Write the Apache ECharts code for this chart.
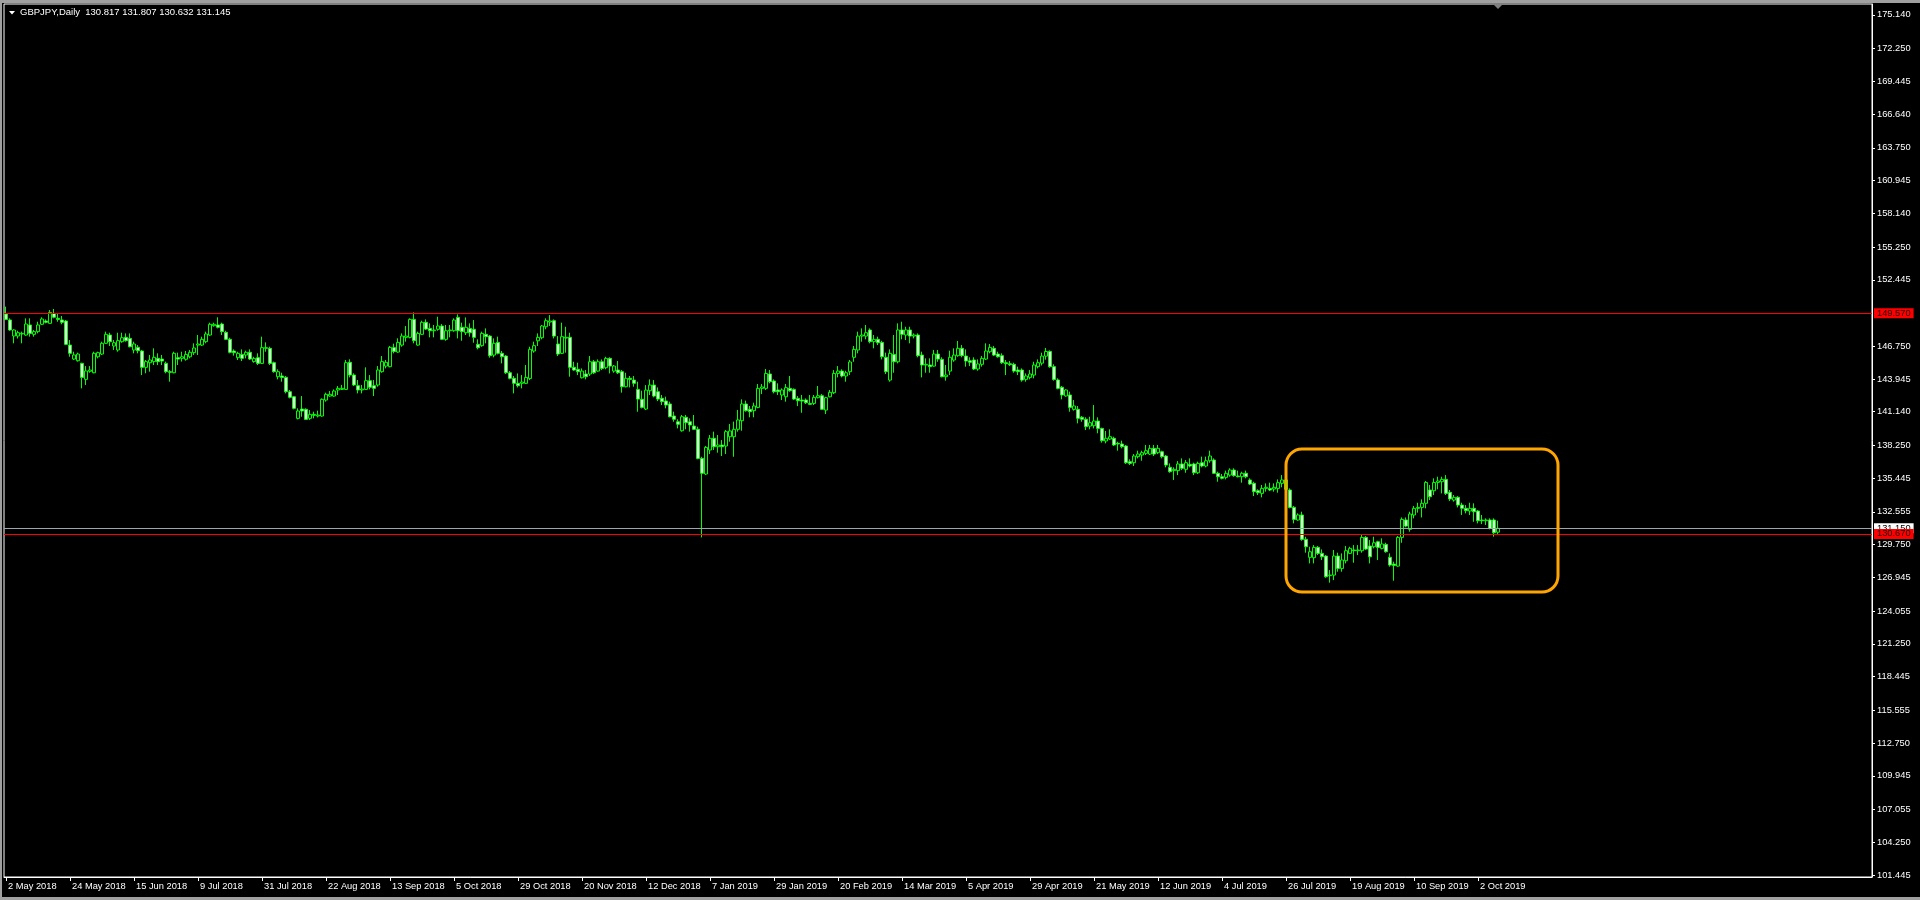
<!DOCTYPE html>
<html><head><meta charset="utf-8">
<script src="https://cdn.jsdelivr.net/npm/echarts@6/dist/echarts.min.js"></script>
<style>html,body{margin:0;padding:0;background:#000;overflow:hidden}#c{width:1920px;height:900px}</style>
</head><body><div id="c"></div>
<script>
// ---------- data ----------
const symbolTitle = 'GBPJPY,Daily';
const lastQuote = ['130.817', '131.807', '130.632', '131.145'];
const firstDate = [2018, 4, 2];              // 2 May 2018
const closedDays = ['2018-12-25', '2019-01-01'];
const totalSlots = 467;                       // visible bar slots incl. empty future space
const monthNames = ['Jan','Feb','Mar','Apr','May','Jun','Jul','Aug','Sep','Oct','Nov','Dec'];

const opens = [
149.51,149.00,147.63,147.63,147.80,147.71,148.57,147.77,148.00,148.63,
148.91,148.71,149.57,149.14,149.00,148.91,146.85,145.65,145.51,145.28,
143.91,144.60,144.48,145.85,146.08,147.00,147.71,146.77,146.43,147.14,
147.51,147.42,146.43,146.65,146.34,144.94,145.34,145.43,145.71,145.65,
145.28,144.57,144.48,145.77,145.71,145.63,145.85,146.20,146.85,146.85,
147.14,147.71,148.51,148.57,148.65,147.94,147.34,146.34,145.77,146.05,
146.00,146.23,145.43,145.77,145.28,146.57,146.57,145.34,144.14,144.20,
144.08,142.85,142.42,140.57,141.37,141.34,140.57,140.91,140.77,140.77,
142.14,142.48,142.48,143.00,143.05,143.05,145.37,144.28,143.37,143.00,
143.05,143.80,143.37,143.43,144.57,145.05,145.00,146.63,146.25,146.85,
147.51,147.51,149.05,146.85,147.77,148.80,148.28,148.08,148.20,148.48,
147.34,148.08,148.08,149.22,148.37,147.91,148.28,148.20,146.91,146.80,
147.77,147.62,145.99,147.08,146.14,145.91,144.48,144.00,143.57,143.57,
143.57,143.99,146.34,147.22,147.48,148.42,148.82,148.94,146.94,146.14,
147.45,147.51,144.94,144.77,144.05,144.37,144.37,145.42,144.62,145.42,
144.91,145.71,144.62,144.71,144.57,143.28,144.00,143.85,143.05,142.20,
141.37,142.94,143.42,142.85,142.29,142.06,141.80,140.77,140.28,139.51,
140.66,140.28,139.91,139.63,137.14,135.80,137.86,138.86,138.14,138.28,
138.20,139.00,139.00,139.63,140.37,141.80,141.34,141.23,141.51,143.14,
143.14,144.37,143.77,143.00,142.57,142.42,143.14,143.05,142.28,142.14,
142.14,141.85,141.85,142.34,142.51,141.28,142.42,142.77,144.42,144.62,
144.20,144.57,145.80,146.43,147.62,147.62,148.14,147.14,147.34,147.08,
145.80,143.85,146.05,145.42,148.14,147.71,148.14,147.62,147.71,145.99,
145.14,145.14,145.05,146.08,145.62,144.14,144.62,145.57,145.94,146.57,
145.91,145.51,145.57,144.80,145.20,145.65,146.28,146.57,146.08,145.94,
145.34,145.25,145.20,144.71,144.71,143.91,144.08,144.28,145.00,145.30,
145.90,146.30,145.00,143.86,143.23,142.49,142.57,141.34,141.34,140.66,
140.49,139.91,139.94,140.34,139.71,138.63,138.80,138.86,138.43,138.37,
138.20,136.86,136.77,137.29,137.43,137.57,137.51,138.00,137.63,137.71,
137.34,136.37,136.09,136.09,136.66,136.20,136.63,136.66,135.91,136.77,
136.49,136.94,137.00,135.86,135.57,135.51,135.71,136.14,135.63,135.57,
135.86,135.29,135.00,134.37,134.14,134.57,134.57,134.51,134.57,135.00,
135.29,134.43,132.94,131.86,132.29,130.20,128.66,128.63,129.51,129.00,
128.77,127.09,127.14,128.77,127.71,128.37,129.00,129.29,129.23,129.23,
130.37,129.63,129.57,130.00,129.43,129.77,128.66,128.08,127.91,130.37,
131.86,131.06,132.29,132.86,132.94,133.29,134.43,134.37,135.08,135.14,
135.34,134.23,133.57,133.80,133.14,132.86,132.63,132.86,132.63,131.86,
131.80,131.86,131.86,130.817];

const highs = [
150.14,149.14,148.20,148.08,148.00,149.14,149.14,148.14,148.85,149.23,
149.05,149.85,149.94,149.57,149.34,149.00,147.28,146.28,146.20,145.34,
145.05,145.05,146.28,146.28,147.14,148.00,147.91,147.28,147.91,147.91,
147.85,147.85,147.14,146.85,146.43,145.57,146.00,146.57,146.14,146.00,
145.43,144.71,146.28,146.20,146.28,146.34,146.43,147.00,147.71,147.57,
148.00,148.77,148.77,149.23,148.77,148.08,147.48,146.48,146.28,146.48,
146.37,146.48,145.85,146.14,147.57,147.08,146.71,145.43,144.77,144.48,
144.20,143.00,142.48,141.43,142.48,141.43,141.28,141.14,141.23,142.28,
142.77,142.91,143.05,143.34,143.43,145.57,145.63,144.43,143.85,143.43,
144.94,144.28,143.85,145.05,145.91,145.57,146.77,146.97,147.43,147.85,
148.48,149.14,149.65,148.00,148.94,149.05,148.71,148.57,149.28,148.65,
148.57,148.57,149.14,149.48,148.77,149.22,148.71,148.99,147.34,148.00,
148.28,147.71,147.42,147.57,146.34,145.99,144.62,144.20,144.42,144.28,
145.14,146.71,147.14,147.85,148.57,149.14,149.42,149.05,147.62,148.77,
148.42,147.91,145.42,145.34,144.85,144.71,145.91,145.57,145.62,145.62,
145.85,145.80,145.14,145.48,144.71,144.48,144.20,144.20,143.71,142.94,
143.42,143.91,143.85,143.22,142.57,142.43,142.00,141.14,140.49,140.86,
140.86,140.57,140.86,139.86,137.28,138.20,139.14,139.43,139.14,138.71,
139.57,140.09,140.29,141.29,142.20,142.09,141.63,141.91,143.51,143.51,
144.80,144.71,143.91,143.57,143.14,143.51,144.20,143.14,142.48,142.57,
142.28,142.57,142.57,143.34,142.65,142.42,143.00,144.71,145.05,144.77,
144.65,145.57,146.77,148.00,148.28,148.57,148.28,147.71,147.57,147.22,
146.20,146.48,147.71,148.71,148.85,148.42,148.42,147.85,147.85,146.28,
145.71,145.71,146.43,146.43,145.80,145.14,146.37,146.57,147.20,146.85,
146.48,145.80,145.80,145.62,145.91,147.00,146.94,146.77,146.28,146.14,
145.57,145.48,145.34,145.00,144.85,144.42,144.71,145.42,145.62,146.20,
146.60,146.40,145.20,144.00,143.34,143.06,142.86,142.14,141.63,140.77,
140.66,140.71,141.71,140.66,139.77,139.49,139.63,139.00,138.57,138.66,
138.29,137.06,137.51,137.80,137.80,138.29,138.29,138.29,138.29,137.80,
137.43,136.71,136.37,136.91,137.14,137.00,137.14,136.77,136.86,137.29,
137.29,137.80,137.14,136.00,135.80,136.09,136.29,136.29,136.09,136.00,
136.09,135.43,135.14,134.49,134.86,135.00,135.06,135.00,135.34,135.71,
135.40,134.57,133.06,132.43,132.57,130.43,129.57,129.71,129.63,129.34,
128.86,127.57,129.29,129.06,129.00,129.63,129.57,129.71,129.71,130.66,
130.49,130.14,130.43,130.08,130.29,129.91,129.00,128.29,130.49,132.08,
132.08,132.57,133.06,133.34,133.63,135.20,134.86,135.43,135.57,135.57,
135.71,134.43,134.00,133.91,133.34,133.14,133.34,133.29,132.71,132.29,
132.00,132.00,132.00,131.807];

const lows = [
149.00,148.08,147.00,147.41,147.00,147.65,147.57,147.57,147.85,148.57,
148.71,148.71,149.14,148.85,148.63,146.85,145.85,145.57,145.43,143.14,
143.43,144.48,144.43,145.71,146.00,146.94,146.77,146.43,146.28,147.05,
147.14,146.65,146.14,146.14,144.28,144.43,144.57,145.14,145.14,145.14,
144.43,143.71,144.43,145.14,145.43,145.51,145.71,146.00,146.00,146.77,
147.00,147.65,148.43,148.28,147.71,147.28,146.14,145.94,145.57,145.48,
145.71,145.57,145.34,145.14,145.23,146.28,145.14,144.48,143.91,143.71,
142.71,142.28,141.34,140.48,140.71,140.43,140.43,140.57,140.65,140.71,
142.00,142.42,142.42,142.57,143.00,143.00,144.08,143.34,142.71,142.71,
143.00,143.05,142.48,143.28,144.48,144.85,144.94,146.14,146.20,146.71,
147.14,147.43,147.00,146.80,147.71,148.14,147.51,147.51,148.08,147.28,
147.22,147.51,147.99,147.42,147.22,147.71,147.57,147.05,146.48,146.71,
147.00,145.77,145.80,146.05,145.28,144.37,143.91,142.71,143.22,143.14,
143.51,143.85,146.20,146.77,147.34,148.20,148.48,147.42,145.91,146.08,
146.20,144.14,144.65,144.28,143.99,143.91,144.20,144.37,144.57,144.71,
144.77,144.42,144.48,144.37,142.77,143.22,143.22,143.28,141.14,141.42,
141.28,142.57,142.37,142.05,141.71,141.43,140.66,140.28,139.71,139.43,
139.63,139.43,139.57,137.06,130.37,135.71,137.51,137.86,137.63,137.34,
137.51,138.57,137.28,139.43,139.51,141.14,140.66,140.66,141.43,142.65,
143.00,143.57,142.71,142.57,142.14,142.00,142.85,142.14,141.62,141.05,
141.80,141.71,141.71,142.28,141.28,140.94,142.37,142.65,144.08,144.08,
143.71,144.28,145.42,146.14,147.14,147.34,147.00,146.57,146.85,145.62,
144.37,143.71,144.48,145.28,147.34,147.28,147.00,147.42,145.80,144.08,
144.48,144.48,145.00,145.42,144.08,143.80,144.28,145.42,145.85,145.80,
145.00,145.05,144.71,144.65,145.00,145.57,146.14,145.91,145.77,145.23,
144.28,145.05,144.48,144.28,143.71,143.71,143.91,144.00,144.85,145.10,
145.60,144.90,143.80,143.06,142.20,142.43,141.14,141.23,140.14,140.28,
139.57,139.63,139.71,139.29,138.49,138.43,138.71,138.20,137.80,138.00,
136.66,136.57,136.49,137.14,136.94,137.43,137.43,137.34,137.51,137.14,
136.37,135.91,135.29,135.71,136.14,135.91,136.37,135.71,135.80,136.37,
136.37,136.77,135.80,135.14,135.34,135.34,135.57,135.57,135.51,135.06,
135.43,134.86,133.91,134.00,133.80,134.29,134.34,134.29,134.20,134.66,
134.40,132.86,131.57,131.80,130.08,129.06,128.14,128.14,128.86,128.43,
126.91,126.49,126.71,127.43,127.43,128.14,128.94,128.20,128.86,129.06,
129.29,128.14,129.43,128.43,129.34,129.06,127.86,126.66,127.86,129.91,
131.23,130.86,132.00,132.49,132.08,132.86,133.57,134.00,134.49,134.14,
134.00,133.49,133.43,132.94,132.29,132.43,132.29,131.71,131.57,131.51,
131.43,131.06,130.43,130.632];

const closes = [
149.05,148.14,148.14,147.91,147.85,148.65,147.85,148.00,148.57,149.08,
148.80,149.65,149.23,149.05,148.80,146.91,146.14,146.00,146.08,144.08,
144.63,144.71,146.14,146.20,147.00,147.77,147.14,147.05,147.23,147.48,
147.23,146.71,146.94,146.37,144.94,145.43,145.57,145.80,145.43,145.48,
144.57,144.51,146.14,145.65,145.85,146.05,146.23,146.60,146.94,147.34,
147.80,148.63,148.63,148.37,148.00,147.34,146.23,146.20,146.14,145.71,
146.23,145.65,145.71,145.28,146.63,146.63,145.28,144.57,144.57,144.08,
142.85,142.37,141.43,141.20,141.20,140.48,140.91,140.83,140.85,142.20,
142.63,142.63,142.91,143.14,143.14,145.34,144.28,143.43,143.00,143.08,
143.80,143.23,143.14,144.71,145.43,145.37,146.65,146.30,147.08,147.62,
147.62,149.05,147.23,147.85,148.80,148.22,148.08,148.14,148.48,147.34,
148.08,148.14,148.99,148.08,148.00,148.37,147.91,147.51,146.62,147.85,
147.57,145.94,147.00,146.14,145.85,144.48,144.00,143.57,143.37,143.68,
144.08,146.48,146.80,147.51,148.48,148.94,148.91,147.62,146.08,147.57,
147.51,144.94,144.71,144.57,144.62,144.14,145.42,144.48,145.42,144.85,
145.71,145.05,145.05,144.48,143.28,144.00,143.91,143.57,142.22,141.51,
142.99,143.42,142.48,142.22,142.00,141.71,140.71,140.49,140.06,140.71,
140.20,140.00,139.63,137.14,135.86,138.08,138.86,138.14,138.28,138.14,
139.43,139.49,139.63,140.43,141.80,141.23,141.14,141.63,143.14,143.26,
144.42,143.71,142.85,142.85,143.00,143.20,142.94,142.22,142.08,142.05,
141.91,141.77,142.37,142.51,141.34,142.34,142.80,144.42,144.62,144.20,
144.48,145.40,146.48,147.62,147.71,147.91,147.14,147.34,147.05,145.85,
144.57,146.14,145.42,148.14,147.77,148.14,147.62,147.71,145.94,145.14,
145.20,145.00,146.08,145.65,144.14,144.28,145.80,145.99,146.57,145.94,
145.48,145.37,144.80,145.23,145.71,146.34,146.65,145.99,145.85,145.34,
145.25,145.17,144.62,144.57,143.85,144.20,144.37,145.14,145.34,145.90,
146.30,145.00,143.90,143.14,142.57,143.00,141.51,141.63,140.57,140.49,
139.86,140.20,140.34,139.71,138.66,138.86,139.00,138.29,138.37,138.14,
136.77,136.71,137.34,137.51,137.63,137.80,138.00,137.51,138.00,137.29,
136.57,136.00,136.20,136.66,136.29,136.77,136.49,135.91,136.71,136.49,
136.94,137.34,135.86,135.57,135.43,135.86,136.14,135.66,135.57,135.86,
135.57,134.94,134.29,134.20,134.57,134.66,134.43,134.66,135.06,135.29,
134.50,132.94,131.91,132.29,130.20,129.57,129.14,129.51,129.00,128.71,
127.00,127.14,128.77,127.71,128.43,129.23,129.43,129.23,129.29,130.37,
129.37,128.71,129.91,129.51,129.80,129.14,128.00,127.97,130.37,131.91,
131.34,132.37,132.86,132.94,133.29,135.08,133.86,135.08,135.20,135.34,
134.14,133.66,133.80,133.14,132.86,132.66,132.86,132.57,131.80,131.80,
131.86,131.14,130.77,131.145];

const priceTicks = [175.140,172.250,169.445,166.640,163.750,160.945,158.140,155.250,152.445,
  146.750,143.945,141.140,138.250,135.445,132.555,129.750,126.945,124.055,121.250,118.445,
  115.555,112.750,109.945,107.055,104.250,101.445];
const priceMin = 101.27, priceMax = 176.075;
const levelResistance = 149.571;   // red horizontal line
const levelBid = 131.145;          // bid line
const levelAsk = 130.672;          // red lower line
const dateLabelEvery = 16;
const zone = { fromIndex: 320, toIndex: 388, top: 137.94, bottom: 125.69 };

// ---------- categories (trading days) ----------
const categories = [];
{
  const d = new Date(Date.UTC(firstDate[0], firstDate[1], firstDate[2]));
  while (categories.length < totalSlots) {
    const wd = d.getUTCDay();
    const iso = d.toISOString().slice(0, 10);
    if (wd !== 0 && wd !== 6 && closedDays.indexOf(iso) < 0) {
      categories.push(d.getUTCDate() + ' ' + monthNames[d.getUTCMonth()] + ' ' + d.getUTCFullYear());
    }
    d.setUTCDate(d.getUTCDate() + 1);
  }
}
const candles = opens.map((o, i) => [o, closes[i], lows[i], highs[i]]);
const nBars = opens.length;

// ---------- chart ----------
const FONT = 'Liberation Sans';
const FS = 9.3;
const chart = echarts.init(document.getElementById('c'), null, { renderer: 'canvas' });
const showDateAt = (idx) => idx % dateLabelEvery === 0 && idx < nBars;

function levelLabel(bg, fg) {
  return {
    show: true, position: 'end', distance: 2,
    formatter: (p) => p.value.toFixed(3),
    backgroundColor: bg, color: fg, padding: [1, 3, 0, 3],
    fontFamily: FONT, fontSize: FS
  };
}

const option = {
  backgroundColor: '#000',
  animation: false,
  grid: { left: 4, right: 48, top: 4, bottom: 23, show: true, borderColor: '#ffffff', borderWidth: 1, backgroundColor: 'transparent' },
  xAxis: {
    type: 'category', data: categories, boundaryGap: true,
    axisLine: { show: true, lineStyle: { color: '#ffffff', width: 1 } },
    axisTick: { show: true, alignWithLabel: true, length: 4, interval: showDateAt, lineStyle: { color: '#ffffff' } },
    axisLabel: { show: true, interval: showDateAt, color: '#ffffff', fontFamily: FONT, fontSize: FS, align: 'left', margin: 5, padding: [0, 0, 0, 2] },
    splitLine: { show: false }
  },
  yAxis: {
    type: 'value', position: 'right', min: priceMin, max: priceMax, scale: true,
    axisLine: { show: true, lineStyle: { color: '#ffffff', width: 1 } },
    axisTick: { show: true, length: 3, customValues: priceTicks, lineStyle: { color: '#ffffff' } },
    axisLabel: { show: true, customValues: priceTicks, formatter: (v) => v.toFixed(3), color: '#ffffff', fontFamily: FONT, fontSize: FS, margin: 5 },
    splitLine: { show: false }
  },
  series: [{
    type: 'candlestick',
    data: candles,
    barWidth: 3,
    itemStyle: {
      color: '#000000', color0: '#ffffff',
      borderColor: '#00ff00', borderColor0: '#00ff00', borderColorDoji: '#00ff00', borderWidth: 1
    },
    markLine: {
      silent: true, symbol: 'none', animation: false,
      data: [
        { yAxis: levelResistance, lineStyle: { color: '#ff0000', width: 1, type: 'solid' }, label: levelLabel('#ff0000', '#200000') },
        { yAxis: levelBid, lineStyle: { color: '#9ea5ad', width: 1, type: 'solid' }, label: levelLabel('#ffffff', '#000000') },
        { yAxis: levelAsk, lineStyle: { color: '#ff0000', width: 1, type: 'solid' }, label: levelLabel('#ff0000', '#200000') }
      ]
    }
  }],
  graphic: [
    { type: 'rect', shape: { x: 0, y: 0, width: 1920, height: 3 }, style: { fill: '#a0a0a0' }, silent: true },
    { type: 'rect', shape: { x: 0, y: 0, width: 2, height: 900 }, style: { fill: '#a0a0a0' }, silent: true },
    { type: 'rect', shape: { x: 0, y: 897, width: 1920, height: 3 }, style: { fill: '#a0a0a0' }, silent: true },
    { type: 'polygon', shape: { points: [[9, 11], [15, 11], [12, 14.5]] }, style: { fill: '#ffffff' }, silent: true },
    { type: 'text', x: 20, y: 12.7, style: { text: symbolTitle + '  ' + lastQuote.join(' '), fill: '#ffffff', font: '9.5px "' + FONT + '"', verticalAlign: 'middle', align: 'left' }, silent: true }
  ]
};
chart.setOption(option);

// overlays positioned through the chart's own coordinate system
const p0 = chart.convertToPixel({ gridIndex: 0 }, [zone.fromIndex, zone.top]);
const p1 = chart.convertToPixel({ gridIndex: 0 }, [zone.toIndex, zone.bottom]);
const pLast = chart.convertToPixel({ gridIndex: 0 }, [nBars - 1, priceMax]);
chart.setOption({
  graphic: option.graphic.concat([
    { type: 'rect', z: 100, shape: { x: p0[0], y: p0[1], width: p1[0] - p0[0], height: p1[1] - p0[1], r: 16 },
      style: { fill: 'none', stroke: '#ffa500', lineWidth: 3 }, silent: true },
    { type: 'polygon', z: 100, shape: { points: [[pLast[0] - 4, pLast[1] + 1], [pLast[0] + 4, pLast[1] + 1], [pLast[0], pLast[1] + 5]] },
      style: { fill: '#808080' }, silent: true }
  ])
});
</script>
</body></html>
